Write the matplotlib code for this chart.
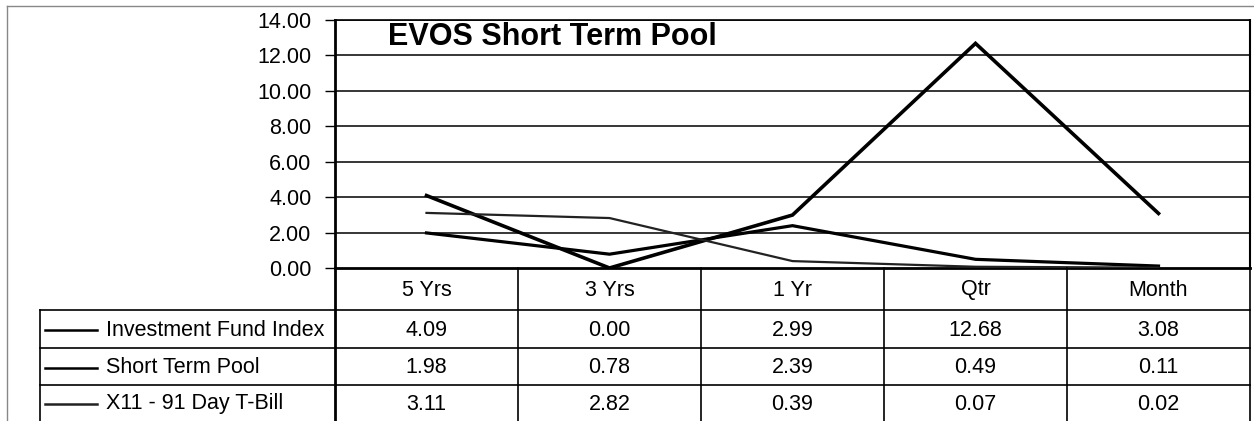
import numpy as np
import matplotlib
matplotlib.use("Agg")
import matplotlib.pyplot as plt

plt.rcParams['font.family'] = ['Liberation Sans', 'DejaVu Sans']

# Datos del grafico
categorias = ['5 Yrs', '3 Yrs', '1 Yr', 'Qtr', 'Month']
series = ['Investment Fund Index', 'Short Term Pool', 'X11 - 91 Day T-Bill']
fondo_indice = [4.09, 0.00, 2.99, 12.68, 3.08]
pool_corto = [1.98, 0.78, 2.39, 0.49, 0.11]
tbill = [3.11, 2.82, 0.39, 0.07, 0.02]
yticks = [0, 2, 4, 6, 8, 10, 12, 14]
titulo = 'EVOS Short Term Pool'

valores = [fondo_indice, pool_corto, tbill]
anchos = [2.6, 2.3, 1.6]
colores = ['black', 'black', '#222222']

W, H = 1254, 421
fig = plt.figure(figsize=(W / 100, H / 100), dpi=100)

# area del grafico en pixeles
x0, x1 = 335, 1250
y_top, y_bot = 20, 268
ax = fig.add_axes([x0 / W, 1 - y_bot / H, (x1 - x0) / W, (y_bot - y_top) / H])

x = np.arange(len(categorias))
for i, vals in enumerate(valores):
    ax.plot(x, vals, color=colores[i], lw=anchos[i], solid_joinstyle='miter', zorder=3)

ax.set_xlim(-0.5, len(categorias) - 0.5)
ax.set_ylim(0, 14)
ax.set_yticks(yticks)
ax.set_yticklabels(['%.2f' % v for v in yticks], fontsize=15.5)
ax.set_xticks([])
for yv in yticks[1:]:
    ax.axhline(yv, color='black', lw=1.1, zorder=1)
ax.tick_params(axis='y', direction='out', length=7, width=1, pad=10)
ax.spines['left'].set_linewidth(2)
ax.spines['bottom'].set_linewidth(2)
ax.spines['right'].set_linewidth(1.5)
ax.spines['right'].set_linestyle((0, (1, 1)))
ax.spines['top'].set_linewidth(1.2)

# tabla de datos dibujada en pixeles
tab = fig.add_axes([0, 0, 1, 1])
tab.set_xlim(0, W)
tab.set_ylim(H, 0)
tab.axis('off')

tab.text(388, 37, titulo, fontsize=22, fontweight='bold', va='center', ha='left')

ncol = len(categorias)
cw = (x1 - x0) / ncol
filas = [268, 310, 348, 385, 421]
leg_x = 40

# lineas horizontales
for yy in filas[1:4]:
    tab.plot([leg_x, x1], [yy, yy], color='black', lw=1.2)
# lineas verticales
for j in range(1, ncol):
    xx = x0 + j * cw
    tab.plot([xx, xx], [filas[0], H], color='black', lw=1.2)
tab.plot([x0, x0], [filas[0], H], color='black', lw=2)
tab.plot([x1, x1], [filas[0], H], color='black', lw=1.2)
tab.plot([leg_x, leg_x], [filas[1], H], color='black', lw=1.2)

# encabezados
for j, cat in enumerate(categorias):
    cx = x0 + (j + 0.5) * cw
    tab.text(cx, (filas[0] + filas[1]) / 2 + 1, cat, ha='center', va='center', fontsize=15.5)

# filas con valores y leyenda
for i, (nombre, vals) in enumerate(zip(series, valores)):
    cy = (filas[i + 1] + filas[i + 2]) / 2 + 1
    tab.plot([45, 97], [cy, cy], color=colores[i], lw=1.8)
    tab.text(106, cy, nombre, ha='left', va='center', fontsize=15.5)
    for j, v in enumerate(vals):
        cx = x0 + (j + 0.5) * cw
        tab.text(cx, cy, '%.2f' % v, ha='center', va='center', fontsize=15.5)

# borde exterior del grafico
tab.plot([7, 7], [6, H], color='#888888', lw=1)
tab.plot([7, W], [6, 6], color='#888888', lw=1)

fig.savefig('out.png', dpi=100)
